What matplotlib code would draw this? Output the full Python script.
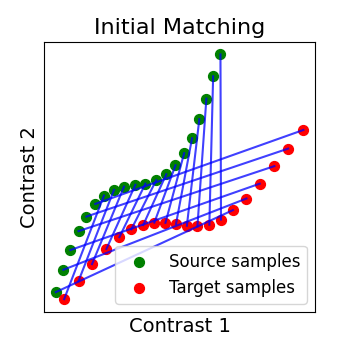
import numpy as np
import matplotlib.pyplot as plt

# source samples (green)
xs = [0.43, 0.71, 0.97, 1.27, 1.56, 1.89, 2.21, 2.58, 2.95, 3.37,
      3.74, 4.14, 4.51, 4.85, 5.17, 5.46, 5.73, 5.99, 6.24, 6.51]
ys = [0.73, 1.56, 2.29, 2.99, 3.53, 4.00, 4.31, 4.52, 4.64, 4.71,
      4.75, 4.88, 5.10, 5.43, 5.88, 6.43, 7.14, 7.90, 8.73, 9.54]

# target samples (red)
xt = [0.74, 1.27, 1.77, 2.30, 2.78, 3.22, 3.66, 4.07, 4.48, 4.87,
      5.27, 5.66, 6.10, 6.53, 6.97, 7.47, 7.96, 8.50, 9.01, 9.57]
yt = [0.47, 1.14, 1.77, 2.33, 2.77, 3.06, 3.22, 3.31, 3.30, 3.26,
      3.19, 3.17, 3.23, 3.42, 3.77, 4.20, 4.75, 5.40, 6.05, 6.74]

# index of the target each source sample is matched to
match = [14, 15, 16, 17, 18, 19, 0, 1, 2, 3,
         4, 5, 6, 7, 8, 9, 10, 11, 12, 13]

fig = plt.figure(figsize=(3.5, 3.5), dpi=100)
ax = fig.add_axes([0.126, 0.109, 0.774, 0.771])

ax.scatter(xs, ys, c='g', s=50, label='Source samples', zorder=2)
ax.scatter(xt, yt, c='r', s=50, label='Target samples', zorder=2)
for i, j in enumerate(match):
    ax.plot([xs[i], xt[j]], [ys[i], yt[j]], color='b', alpha=0.75, lw=1.5, zorder=3)

ax.set_xlim(0, 10)
ax.set_ylim(0, 10)
ax.set_xticks([])
ax.set_yticks([])
ax.set_title('Initial Matching', fontsize=16)
ax.set_xlabel('Contrast 1', fontsize=14)
ax.set_ylabel('Contrast 2', fontsize=14)
ax.legend(loc='lower right', fontsize=12)

fig.savefig('out.png', dpi=100)
